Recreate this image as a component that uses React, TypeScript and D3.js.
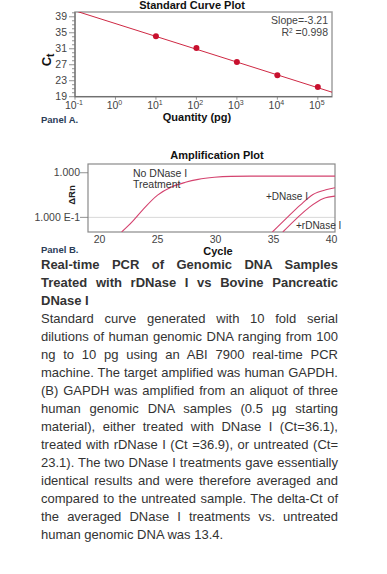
import React from 'react';
import * as d3 from 'd3';

// Panel A: standard curve
const quantities = [1e1, 1e2, 1e3, 1e4, 1e5];
const ctValues = [34.1, 31.2, 27.7, 24.4, 21.4];
const fitSlope = -3.21;
const fitIntercept = 37.3;
const ctTicks = [19, 23, 27, 31, 35, 39];
const decadeExps = [-1, 0, 1, 2, 3, 4, 5];

// Panel B: amplification curves
const noDnaseCycles = [21.9, 22.8, 23.7, 25.0, 26.2, 27.4, 28.5, 29.9, 31.3, 33.0, 36.0, 40.3];
const noDnaseRn = [0.047, 0.079, 0.146, 0.316, 0.48, 0.61, 0.71, 0.79, 0.83, 0.84, 0.84, 0.84];
const dnaseCycles = [34.9, 36.1, 37.3, 38.4, 39.6, 40.3];
const dnaseRn = [0.047, 0.095, 0.188, 0.327, 0.42, 0.46];
const rdnaseCycles = [35.8, 37.0, 38.1, 39.3, 40.3];
const rdnaseRn = [0.047, 0.095, 0.17, 0.266, 0.3];
const cycleTicks = [20, 25, 30, 35, 40];
const rnTicks = [1, 0.1];
const rnTickLabels = ['1.000', '1.000 E-1'];

const titleLines = [
  'Real-time PCR of Genomic DNA Samples',
  'Treated with rDNase I vs Bovine Pancreatic',
  'DNase I',
];
const bodyLines = [
  'Standard curve generated with 10 fold serial',
  'dilutions of human genomic DNA ranging from 100',
  'ng to 10 pg using an ABI 7900 real-time PCR',
  'machine. The target amplified was human GAPDH.',
  '(B) GAPDH was amplified from an aliquot of three',
  'human genomic DNA samples (0.5 µg starting',
  'material), either treated with DNase I (Ct=36.1),',
  'treated with rDNase I (Ct =36.9), or untreated (Ct=',
  '23.1). The two DNase I treatments gave essentially',
  'identical results and were therefore averaged and',
  'compared to the untreated sample. The delta-Ct of',
  'the averaged DNase I treatments vs. untreated',
  'human genomic DNA was 13.4.',
];

const chartFont = '"Liberation Sans Narrow", "Arial Narrow", "Liberation Sans", Arial, sans-serif';
const red = '#c8102e';
const curveRed = '#d4436f';
const panelColor = '#2b3d58';

export default function App() {
  // ---- Panel A scales
  const a = { left: 75, right: 332, top: 12, bottom: 96.7 };
  const xA = d3.scaleLog().domain([0.1, Math.pow(10, 5.35)]).range([a.left, a.right]);
  const yA = d3.scaleLinear().domain([19, 40.2]).range([a.bottom, a.top]);
  const fitLine = d3.line<number>()
    .x(q => xA(q))
    .y(q => yA(fitIntercept + fitSlope * Math.log10(q)));
  const fitQs = [0.1, Math.pow(10, 5.35)];
  const minorCt = d3.range(19, 41, 1);

  // ---- Panel B scales
  const b = { left: 88, right: 335, top: 164, bottom: 232 };
  const xB = d3.scaleLinear().domain([19, 40.3]).range([b.left, b.right]);
  const yB = d3.scaleLog().domain([0.047, 1.57]).range([b.bottom, b.top]);
  const curve = d3.line<[number, number]>()
    .x(d => xB(d[0]))
    .y(d => yB(d[1]))
    .curve(d3.curveMonotoneX);
  const series = [
    d3.zip(noDnaseCycles, noDnaseRn) as [number, number][],
    d3.zip(dnaseCycles, dnaseRn) as [number, number][],
    d3.zip(rdnaseCycles, rdnaseRn) as [number, number][],
  ];

  return (
    <div style={{ position: 'absolute', left: 0, top: 0, width: 387, height: 574, background: '#fff' }}>
      <svg width={387} height={574} style={{ position: 'absolute', left: 0, top: 0 }} fontFamily={chartFont}>
        <defs>
          <clipPath id="clipA"><rect x={a.left} y={a.top} width={a.right - a.left} height={a.bottom - a.top} /></clipPath>
          <clipPath id="clipB"><rect x={b.left} y={b.top} width={b.right - b.left} height={b.bottom - b.top} /></clipPath>
        </defs>

        {/* ===== Panel A ===== */}
        <text x={192} y={9} textAnchor="middle" fontSize={11} fontWeight="bold" fill="#111">Standard Curve Plot</text>
        <rect x={a.left} y={a.top} width={a.right - a.left} height={a.bottom - a.top} fill="none" stroke="#a0a0a0" strokeWidth={1.5} />
        <line x1={a.left} x2={a.left} y1={a.top} y2={a.bottom} stroke="#666" />
        <line x1={a.left} x2={a.right} y1={a.bottom} y2={a.bottom} stroke="#666" />
        {minorCt.map(v => (
          <line key={v} x1={a.left - (ctTicks.includes(v) ? 6 : 3)} x2={a.left} y1={yA(v)} y2={yA(v)} stroke="#777" strokeWidth={0.8} />
        ))}
        {ctTicks.map(v => (
          <text key={v} x={a.left - 8} y={yA(v) + 3.5} textAnchor="end" fontSize={10.5} fill="#444">{v}</text>
        ))}
        {decadeExps.map(e => (
          <g key={e}>
            <line x1={xA(Math.pow(10, e))} x2={xA(Math.pow(10, e))} y1={a.bottom} y2={a.bottom + 3} stroke="#777" strokeWidth={0.8} />
            <text x={xA(Math.pow(10, e)) - 1} y={108.5} textAnchor="middle" fontSize={10.5} fill="#444">
              10<tspan dy={-4} fontSize={7}>{e}</tspan>
            </text>
          </g>
        ))}
        <text x={197} y={120.5} textAnchor="middle" fontSize={11} fontWeight="bold" fill="#111">Quantity (pg)</text>
        <text transform="translate(51,60) rotate(-90)" textAnchor="middle" fontSize={13} fontWeight="bold" fill="#111">
          C<tspan dy={3} fontSize={10}>t</tspan>
        </text>
        <text x={41} y={123} fontSize={9.5} fontWeight="bold" fill={panelColor}>Panel A.</text>
        <text x={328} y={24} textAnchor="end" fontSize={10.5} fill="#444">Slope=-3.21</text>
        <text x={328} y={36} textAnchor="end" fontSize={10.5} fill="#444">
          R<tspan dy={-3.5} fontSize={6.5}>2</tspan><tspan dy={3.5}> =0.998</tspan>
        </text>
        <g clipPath="url(#clipA)">
          <path d={fitLine(fitQs) || ''} fill="none" stroke={red} strokeWidth={0.9} />
        </g>
        {quantities.map((q, i) => (
          <circle key={q} cx={xA(q)} cy={yA(ctValues[i])} r={3} fill={red} />
        ))}

        {/* ===== Panel B ===== */}
        <text x={217} y={159} textAnchor="middle" fontSize={11} fontWeight="bold" fill="#111">Amplification Plot</text>
        <line x1={b.left} x2={b.right} y1={yB(0.1)} y2={yB(0.1)} stroke="#d8d8d8" strokeWidth={1} />
        <rect x={b.left} y={b.top} width={b.right - b.left} height={b.bottom - b.top} fill="none" stroke="#8a8a8a" strokeWidth={1.2} />
        {rnTicks.map((v, i) => (
          <g key={v}>
            <line x1={b.left - 8} x2={b.left} y1={yB(v)} y2={yB(v)} stroke="#777" strokeWidth={0.8} />
            <text x={b.left - 8} y={yB(v) + 3.5} textAnchor="end" fontSize={10.5} fill="#444">{rnTickLabels[i]}</text>
          </g>
        ))}
        {cycleTicks.map(c => (
          <text key={c} x={xB(c)} y={242.5} textAnchor="middle" fontSize={10.5} fill="#444">{c}</text>
        ))}
        <text x={218} y={255} textAnchor="middle" fontSize={11} fontWeight="bold" fill="#111">Cycle</text>
        <text transform="translate(75,195) rotate(-90)" textAnchor="middle" fontSize={9.5} fontWeight="bold" fill="#222">ΔRn</text>
        <text x={41} y={253} fontSize={9.5} fontWeight="bold" fill={panelColor}>Panel B.</text>
        <g clipPath="url(#clipB)">
          {series.map((s, i) => (
            <path key={i} d={curve(s) || ''} fill="none" stroke={curveRed} strokeWidth={1.1} />
          ))}
        </g>
        <text x={133} y={177} fontSize={10.5} fill="#333">No DNase I</text>
        <text x={133} y={187.5} fontSize={10.5} fill="#333">Treatment</text>
        <text x={266} y={200} fontSize={10} fill="#333">+DNase I</text>
        <text x={296} y={228.5} fontSize={10} fill="#333">+rDNase I</text>
      </svg>

      <div style={{
        position: 'absolute', left: 41, top: 255.7, width: 297,
        fontFamily: '"Liberation Sans", Arial, sans-serif', fontSize: 13, lineHeight: '18px', color: '#333',
      }}>
        {titleLines.map((t, i) => (
          <div key={'t' + i} style={{ fontWeight: 'bold', textAlign: 'justify', textAlignLast: i < titleLines.length - 1 ? 'justify' : 'left', whiteSpace: 'nowrap' }}>{t}</div>
        ))}
        {bodyLines.map((t, i) => (
          <div key={'b' + i} style={{ textAlign: 'justify', textAlignLast: i < bodyLines.length - 1 ? 'justify' : 'left' }}>{t}</div>
        ))}
      </div>
    </div>
  );
}
